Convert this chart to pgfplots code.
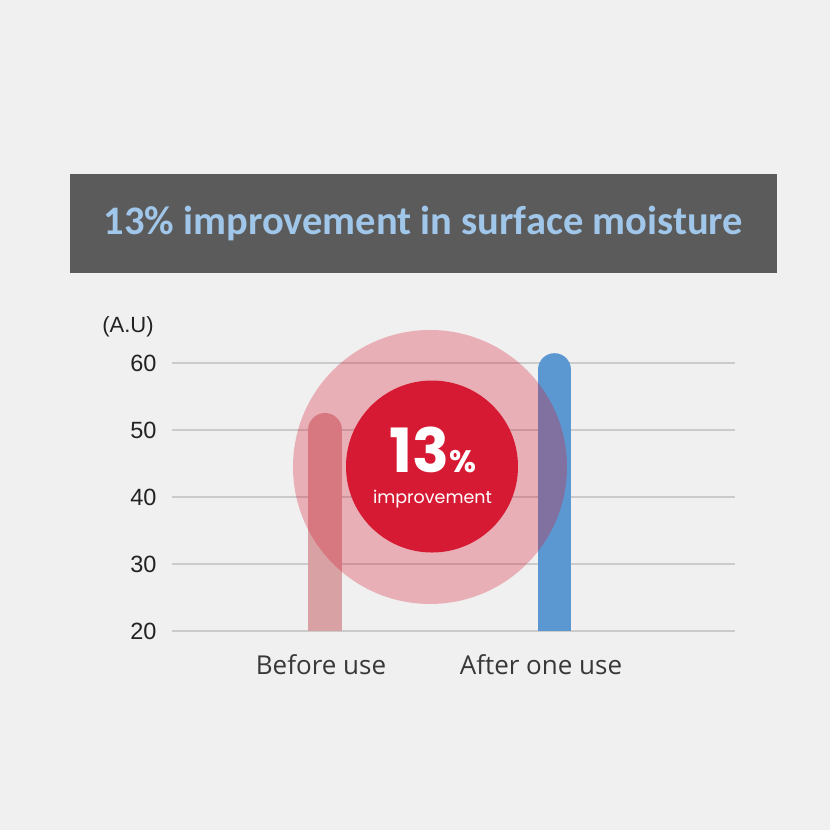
\documentclass[border=0pt]{standalone}
\usepackage{pgfplots}
\pgfplotsset{compat=1.18}
\usepackage{fontspec}
\setmainfont{Liberation Sans}
\newfontfamily\titlefont{Carlito}
\newfontfamily\labelfont{Open Sans}
\newfontfamily\popfont{Poppins}
\definecolor{bg}{HTML}{F0F0F0}
\definecolor{titlebg}{HTML}{5B5B5B}
\definecolor{titleblue}{HTML}{A0C6EA}
\definecolor{gridc}{HTML}{CBCBCB}
\definecolor{redc}{HTML}{D71A33}
\definecolor{beforec}{HTML}{D8A2A4}
\definecolor{afterc}{HTML}{5B98D2}
\definecolor{ticktext}{HTML}{222222}
\begin{document}
\begin{tikzpicture}[x=1pt,y=1pt]
\fill[bg] (0,0) rectangle (830,830);
\fill[titlebg] (70,557) rectangle (777,656);
\node[font=\titlefont\bfseries\fontsize{40.5}{45}\selectfont, text=titleblue, anchor=base] at (423.5,595) {13\% improvement in surface moisture};
\node[font=\fontsize{22}{26}\selectfont, text=ticktext, anchor=base] at (128,497) {(A.U)};
\begin{axis}[
  at={(172pt,199pt)}, anchor=south west,
  scale only axis, width=563pt, height=301.5pt,
  xmin=0, xmax=563, ymin=20, ymax=65,
  axis line style={draw=none},
  major tick length=0pt,
  ytick={20,30,40,50,60},
  ymajorgrids,
  grid style={line width=1.5pt, color=gridc},
  xtick={149,369},
  xticklabels={Before use, After one use},
  /pgf/number format/assume math mode=true,
  yticklabel style={font=\fontsize{23.5}{26}\selectfont, text=ticktext, xshift=-12pt},
  xticklabel style={font=\labelfont\fontsize{26}{30}\selectfont, text=ticktext!90!white, anchor=base, yshift=-44pt},
]
\addplot[ycomb, no marks, line width=34pt, line cap=round, color=beforec] coordinates {(153,50)};
\addplot[ycomb, no marks, line width=33pt, line cap=round, color=afterc] coordinates {(382.5,59)};
\fill[redc, opacity=0.3] (axis cs:258,44.48) circle[radius=137pt];
\fill[redc] (axis cs:260,44.55) circle[radius=86pt];
\node[text=white, inner sep=0pt, font=\popfont\bfseries\fontsize{61}{61}\selectfont, anchor=base] at (axis cs:261,43.7) {13{\fontsize{31}{31}\selectfont\%}};
\node[text=white, inner sep=0pt, font=\popfont\fontsize{17.5}{20}\selectfont, anchor=base] at (axis cs:260.5,39.0) {improvement};
\end{axis}
\end{tikzpicture}
\end{document}
